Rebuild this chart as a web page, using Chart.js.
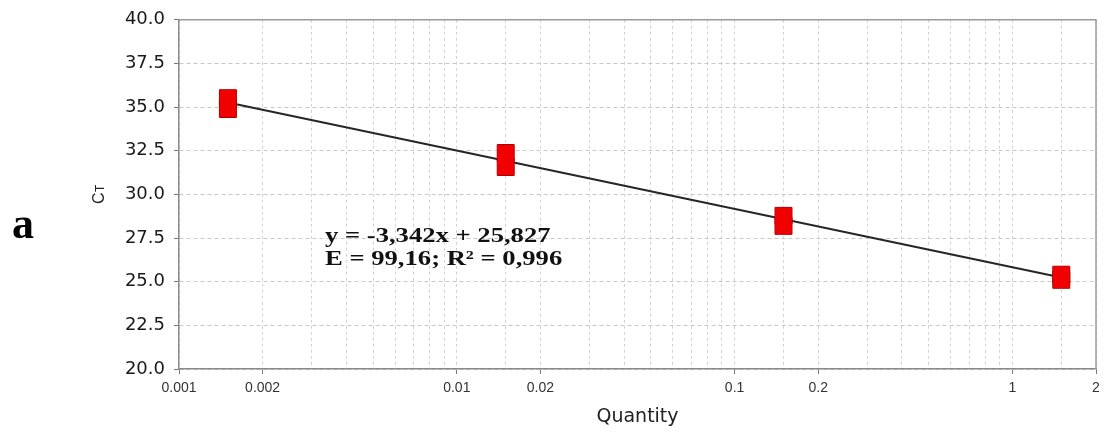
<!DOCTYPE html>
<html>
<head>
<meta charset="utf-8">
<script src="https://cdn.jsdelivr.net/npm/chart.js@4.4.1/dist/chart.umd.min.js"></script>
<style>
  html, body { margin: 0; padding: 0; background: #ffffff; }
  #wrap { width: 1109px; height: 434px; position: relative; }
</style>
</head>
<body>
<div id="wrap"><canvas id="c"></canvas></div>
<script>
// Standard curve: template quantity (log scale) against threshold cycle
const quantities   = [0.0015, 0.015, 0.15, 1.5];
const ctReplicateA = [35.51, 32.37, 28.77, 25.40];
const ctReplicateB = [34.89, 31.57, 28.20, 25.11];

// Linear fit of CT on log10(quantity)
const fitSlope     = -3.342;
const fitIntercept = 25.827;
const efficiency   = 99.16;
const rSquared     = 0.996;

const xTickLabels = ['0.001', '0.002', '0.01', '0.02', '0.1', '0.2', '1', '2'];
const yTickLabels = ['20.0', '22.5', '25.0', '27.5', '30.0', '32.5', '35.0', '37.5', '40.0'];
const panelLetter = 'a';

const comma = v => String(v).replace('.', ',');
const fitLine = [quantities[0], quantities[quantities.length - 1]]
  .map(q => ({ x: q, y: fitSlope * Math.log10(q) + fitIntercept }));
const replicatePoints = quantities.flatMap((q, i) => [
  { x: q, y: ctReplicateA[i] },
  { x: q, y: ctReplicateB[i] }
]);

function xLabelFor(v) {
  return xTickLabels.find(s => Math.abs(Number(s) / v - 1) < 1e-6);
}

const decorations = {
  id: 'decorations',
  beforeDatasetsDraw(chart) {
    const { ctx, chartArea: a } = chart;
    ctx.save();
    ctx.strokeStyle = '#9a9a9a';
    ctx.lineWidth = 1.5;
    ctx.beginPath();
    ctx.moveTo(a.left, a.top);
    ctx.lineTo(a.right, a.top);
    ctx.lineTo(a.right, a.bottom);
    ctx.stroke();
    ctx.restore();
  },
  afterDraw(chart) {
    const { ctx } = chart;
    ctx.save();
    // y axis title: C with small T
    ctx.fillStyle = '#222';
    ctx.translate(104, 204);
    ctx.rotate(-Math.PI / 2);
    ctx.textBaseline = 'alphabetic';
    ctx.textAlign = 'left';
    ctx.font = '16px "Liberation Sans", Arial, sans-serif';
    ctx.fillText('C', 0, 0);
    const cw = ctx.measureText('C').width;
    ctx.font = '12px "Liberation Sans", Arial, sans-serif';
    ctx.fillText('T', cw + 0.5, 0);
    ctx.restore();

    // regression annotation
    ctx.save();
    ctx.fillStyle = '#111';
    ctx.font = 'bold 22px "Liberation Serif", "Times New Roman", serif';
    ctx.textBaseline = 'alphabetic';
    ctx.translate(325, 0);
    ctx.scale(1.21, 1);
    ctx.fillText('y = ' + comma(fitSlope) + 'x + ' + comma(fitIntercept), 0, 242);
    ctx.fillText('E = ' + comma(efficiency) + '; R\u00B2 = ' + comma(rSquared), 0, 265);
    ctx.restore();

    // panel letter
    ctx.save();
    ctx.fillStyle = '#000';
    ctx.font = 'bold 44px "Liberation Serif", "Times New Roman", serif';
    ctx.textBaseline = 'alphabetic';
    ctx.fillText(panelLetter, 12, 238);
    ctx.restore();
  }
};

new Chart(document.getElementById('c'), {
  type: 'scatter',
  data: {
    datasets: [
      {
        // fill layer hides the inner edges where replicates overlap
        data: replicatePoints,
        pointStyle: 'rect',
        pointRadius: 11.3,
        pointBackgroundColor: '#f00000',
        pointBorderWidth: 0,
        pointBorderColor: 'rgba(0,0,0,0)',
        order: 1
      },
      {
        data: replicatePoints,
        pointStyle: 'rect',
        pointRadius: 12,
        pointBackgroundColor: '#f00000',
        pointBorderColor: '#a80000',
        pointBorderWidth: 1,
        order: 2
      },
      {
        type: 'line',
        data: fitLine,
        showLine: true,
        borderColor: '#262626',
        borderWidth: 2,
        pointRadius: 0,
        fill: false,
        order: 3
      }
    ]
  },
  options: {
    responsive: true,
    maintainAspectRatio: false,
    animation: false,
    events: [],
    layout: { padding: { top: 19, right: 9, left: 0, bottom: 0 } },
    plugins: { legend: { display: false }, tooltip: { enabled: false } },
    scales: {
      x: {
        type: 'logarithmic',
        min: 0.001,
        max: 2,
        afterFit(scale) { scale.height = 65; },
        border: { display: true, color: '#8a8a8a', width: 1.5, dash: [3, 3] },
        grid: {
          color: '#d2d2d2',
          lineWidth: 1,
          tickLength: 5,
          tickBorderDash: [],
          tickWidth: 1,
          tickColor: c => (c.tick && xLabelFor(c.tick.value)) ? '#777' : 'rgba(0,0,0,0)'
        },
        ticks: {
          autoSkip: false,
          maxRotation: 0,
          minRotation: 0,
          padding: 6,
          color: '#333',
          font: { family: '"Liberation Sans", Arial, sans-serif', size: 14 },
          callback: v => xLabelFor(v) || ''
        },
        title: {
          display: true,
          text: 'Quantity',
          color: '#222',
          font: { family: '"DejaVu Sans", sans-serif', size: 19 },
          padding: { top: 0, bottom: 6 }
        }
      },
      y: {
        type: 'linear',
        min: 20,
        max: 40,
        afterFit(scale) { scale.width = 179; },
        border: { display: true, color: '#8a8a8a', width: 1.5, dash: [4, 3] },
        grid: {
          color: '#c8c8c8',
          lineWidth: 1,
          tickLength: 5,
          tickBorderDash: [],
          tickWidth: 1,
          tickColor: '#777'
        },
        ticks: {
          stepSize: 2.5,
          padding: 9,
          color: '#1a1a1a',
          font: { family: '"DejaVu Sans", sans-serif', size: 18 },
          callback: (v, i) => yTickLabels[i]
        }
      }
    }
  },
  plugins: [decorations]
});
</script>
</body>
</html>
